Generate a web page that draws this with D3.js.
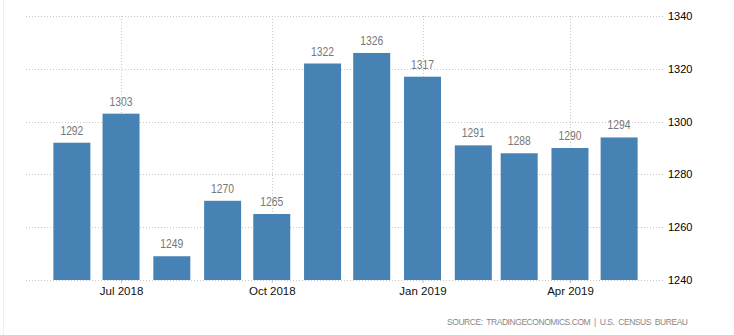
<!DOCTYPE html>
<html>
<head>
<meta charset="utf-8">
<script src="https://cdn.jsdelivr.net/npm/d3@7"></script>
<style>
  html, body { margin: 0; padding: 0; background: #fff; }
  svg { display: block; }
</style>
</head>
<body>
<svg id="chart" width="734" height="335"></svg>
<script>
// ---- Data ----
const months = ["2018-06", "2018-07", "2018-08", "2018-09", "2018-10", "2018-11",
                "2018-12", "2019-01", "2019-02", "2019-03", "2019-04", "2019-05"];
const values = [1292, 1303, 1249, 1270, 1265, 1322, 1326, 1317, 1291, 1288, 1290, 1294];
const xTickMonths = ["2018-07", "2018-10", "2019-01", "2019-04"];
const yTicks = [1240, 1260, 1280, 1300, 1320, 1340];
const sourceText = "SOURCE:  TRADINGECONOMICS.COM  |  U.S.  CENSUS  BUREAU";

// ---- Layout ----
const W = 734, H = 335;
const plot = { left: 26, right: 665, top: 16, bottom: 280 };
const barWidth = 37;

const parse = d3.utcParse("%Y-%m");
const data = months.map((m, i) => ({ date: parse(m), value: values[i] }));

const x = d3.scaleUtc()
  .domain([Date.UTC(2018, 4, 4), Date.UTC(2019, 4, 29)])
  .range([plot.left, plot.right]);
const y = d3.scaleLinear()
  .domain([1240, 1340])
  .range([plot.bottom, plot.top]);

const svg = d3.select("#chart");

// faint left border
svg.append("line")
  .attr("x1", 3.5).attr("x2", 3.5).attr("y1", 0).attr("y2", H)
  .attr("stroke", "#f0f0f0").attr("stroke-width", 1);

const grid = svg.append("g").attr("class", "grid");
// horizontal gridlines
grid.selectAll("line.h").data(yTicks).join("line")
  .attr("class", "h")
  .attr("x1", plot.left).attr("x2", plot.right)
  .attr("y1", d => Math.round(y(d)) + 0.5).attr("y2", d => Math.round(y(d)) + 0.5)
  .attr("stroke", "#c8c8c8").attr("stroke-width", 1).attr("stroke-dasharray", "1,2");
// vertical gridlines
const tickDates = xTickMonths.map(parse);
grid.selectAll("line.v").data(tickDates).join("line")
  .attr("class", "v")
  .attr("x1", d => Math.round(x(d)) + 0.5).attr("x2", d => Math.round(x(d)) + 0.5)
  .attr("y1", plot.top).attr("y2", plot.bottom)
  .attr("stroke", "#c8c8c8").attr("stroke-width", 1).attr("stroke-dasharray", "1,2");

// bars
svg.append("g").selectAll("rect").data(data).join("rect")
  .attr("x", d => x(d.date) - barWidth / 2)
  .attr("width", barWidth)
  .attr("y", d => y(d.value))
  .attr("height", d => y(1240) - y(d.value))
  .attr("fill", "#4682b4");

// value labels
svg.append("g").selectAll("text").data(data).join("text")
  .attr("x", d => x(d.date))
  .attr("y", d => y(d.value) - 8)
  .attr("text-anchor", "middle")
  .attr("font-family", "'Liberation Sans', Arial, sans-serif")
  .attr("font-size", "13px")
  .attr("textLength", 23)
  .attr("lengthAdjust", "spacingAndGlyphs")
  .attr("fill", "#777")
  .text(d => d.value);

// x axis
const xAxis = d3.axisBottom(x)
  .tickValues(tickDates)
  .tickFormat(d3.utcFormat("%b %Y"))
  .tickSize(3)
  .tickPadding(4);
const gx = svg.append("g")
  .attr("transform", `translate(0,${plot.bottom})`)
  .call(xAxis);
gx.select(".domain").remove();
gx.selectAll(".tick line").attr("stroke", "#bbb");
gx.selectAll(".tick text")
  .attr("font-family", "'Liberation Sans', Arial, sans-serif")
  .attr("font-size", "11.5px")
  .attr("fill", "#111");

// y axis (right)
const yAxis = d3.axisRight(y)
  .tickValues(yTicks)
  .tickFormat(d3.format("d"))
  .tickSize(0)
  .tickPadding(4);
const gy = svg.append("g")
  .attr("transform", `translate(${plot.right - 1},0)`)
  .call(yAxis);
gy.select(".domain").remove();
gy.selectAll(".tick text")
  .attr("font-family", "'Liberation Sans', Arial, sans-serif")
  .attr("font-size", "11px")
  .attr("fill", "#000");

// source
svg.append("text")
  .attr("x", 688).attr("y", 325)
  .attr("text-anchor", "end")
  .attr("font-family", "'Liberation Sans', Arial, sans-serif")
  .attr("font-size", "8.5px")
  .attr("fill", "#888")
  .attr("xml:space", "preserve")
  .style("white-space", "pre")
  .attr("textLength", 241)
  .attr("lengthAdjust", "spacing")
  .text(sourceText);
</script>
</body>
</html>
